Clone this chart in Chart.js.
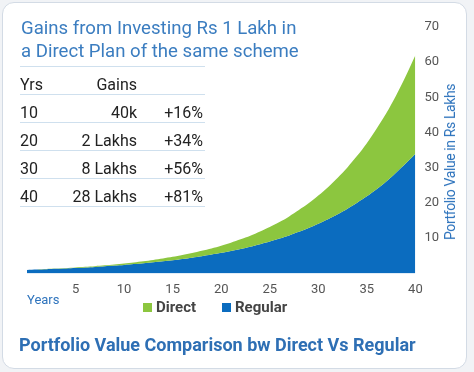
<!DOCTYPE html>
<html>
<head>
<meta charset="utf-8">
<script src="https://cdn.jsdelivr.net/npm/chart.js@4/dist/chart.umd.min.js"></script>
<style>
	body { margin: 0; background: #f1f3f6; font-family: Roboto, sans-serif; }
	#wrap { position: relative; width: 474px; height: 372px; overflow: hidden; }
	#card { position: absolute; left: 2px; top: 2px; width: 463px; height: 365px; background: #fff; border: 1px solid #d3dbe5; border-radius: 12px; }
	#chart { position: absolute; left: 0; top: 0; }
	.hdr { position: absolute; left: 21px; top: 17px; color: #3b7dc0; font-size: 18.6px; line-height: 23px; }
	.tbl { position: absolute; left: 20px; width: 185px; border-bottom: 1px solid #cfe0ee; color: #222; font-size: 16px; height: 27px; }
	.tbl span { position: absolute; top: 8px; }
	.legend { position: absolute; top: 298px; font-size: 15px; font-weight: bold; color: #444; }
	.legend i { display: inline-block; width: 9px; height: 9px; margin-right: 4px; }
	.years { position: absolute; left: 27px; top: 292px; font-size: 13px; color: #2f74bd; }
	.foot { position: absolute; left: 19px; top: 334px; font-size: 18px; font-weight: bold; color: #2e6fb4; }
	.ytitle { position: absolute; left: 450px; top: 162px; transform: translate(-50%, -50%) rotate(-90deg); white-space: nowrap; font-size: 14px; letter-spacing: -0.4px; color: #2f74bd; }
</style>
</head>
<body>
<div id="wrap">
	<div id="card"></div>
	<canvas id="chart" width="474" height="372"></canvas>
	<div class="hdr">Gains from Investing Rs 1 Lakh in<br>a Direct Plan of the same scheme</div>
	<div id="table"></div>
	<div class="ytitle">Portfolio Value in Rs Lakhs</div>
	<div class="years">Years</div>
	<div class="legend" style="left:143px"><i style="background:#8cc63f"></i>Direct</div>
	<div class="legend" style="left:222px"><i style="background:#0b6cbf"></i>Regular</div>
	<div class="foot">Portfolio Value Comparison bw Direct Vs Regular</div>
</div>
<script>
//chart data (portfolio value in Rs lakhs)

const years = [0, 1, 2, 3, 4, 5, 6, 7, 8, 9, 10, 11, 12, 13, 14, 15, 16, 17, 18, 19, 20,
	21, 22, 23, 24, 25, 26, 27, 28, 29, 30, 31, 32, 33, 34, 35, 36, 37, 38, 39, 40];

const directValues = [1.0, 1.11, 1.23, 1.36, 1.51, 1.68, 1.86, 2.06, 2.28, 2.53, 2.81,
	3.11, 3.45, 3.83, 4.24, 4.7, 5.21, 5.78, 6.41, 7.1, 7.88,
	8.73, 9.68, 10.7, 11.9, 13.2, 14.6, 16.2, 18.0, 19.9, 22.1,
	24.5, 27.2, 30.1, 33.4, 37.0, 41.1, 45.5, 50.5, 56.0, 62.0];

const regularValues = [1.0, 1.09, 1.19, 1.3, 1.42, 1.55, 1.7, 1.85, 2.02, 2.21, 2.41,
	2.64, 2.88, 3.15, 3.44, 3.75, 4.1, 4.48, 4.89, 5.34, 5.84,
	6.37, 6.96, 7.6, 8.31, 9.07, 9.91, 10.8, 11.8, 12.9, 14.1,
	15.4, 16.8, 18.4, 20.1, 21.9, 23.9, 26.1, 28.6, 31.2, 34.0];

//gains table

const tableYears = ['10', '20', '30', '40'];
const tableGains = ['40k', '2 Lakhs', '8 Lakhs', '28 Lakhs'];
const tablePercent = ['+16%', '+34%', '+56%', '+81%'];

//build the table rows

function buildTable() {
	const box = document.getElementById('table');
	let html = '<div class="tbl" style="top:40px;height:26px"></div>';
	html += '<div class="tbl" style="top:67px"><span style="left:0">Yrs</span><span style="right:68px">Gains</span></div>';
	for (let i = 0; i < tableYears.length; i++) {
		const top = 95 + i * 28;
		html += `<div class="tbl" style="top:${top}px">` +
			`<span style="left:0">${tableYears[i]}</span>` +
			`<span style="right:68px">${tableGains[i]}</span>` +
			`<span style="right:2px">${tablePercent[i]}</span></div>`;
	}
	box.innerHTML = html;
}
buildTable();

//chart configuration

const toPoints = (vals) => vals.map((v, i) => ({ x: years[i], y: v }));

const config = {
	type: 'line',
	data: {
		datasets: [{
			label: 'Direct',
			data: toPoints(directValues),
			backgroundColor: '#8cc63f',
			borderWidth: 0,
			pointRadius: 0,
			tension: 0.3,
			fill: 1
		}, {
			label: 'Regular',
			data: toPoints(regularValues),
			backgroundColor: '#0b6cbf',
			borderWidth: 0,
			pointRadius: 0,
			tension: 0.3,
			fill: 'origin'
		}]
	},
	options: {
		responsive: false,
		devicePixelRatio: 1,
		animation: false,
		layout: {
			padding: { left: 27, top: 27, right: 26, bottom: 65 }
		},
		plugins: {
			legend: { display: false },
			tooltip: { enabled: false }
		},
		scales: {
			x: {
				type: 'linear',
				min: 0,
				max: 40,
				grid: { display: false, drawTicks: false },
				border: { display: false },
				ticks: {
					stepSize: 5,
					padding: 9,
					color: '#555',
					font: { family: 'Roboto', size: 13 },
					callback: (v) => v === 0 ? '' : v
				}
			},
			y: {
				position: 'right',
				min: 0,
				max: 70,
				grid: { display: false, drawTicks: false },
				border: { display: false },
				ticks: {
					stepSize: 10,
					padding: 9,
					color: '#555',
					font: { family: 'Roboto', size: 13 },
					callback: (v) => v === 0 ? '' : v
				}
			}
		}
	}
};

const chart = new Chart(document.getElementById('chart').getContext('2d'), config);
</script>
</body>
</html>
